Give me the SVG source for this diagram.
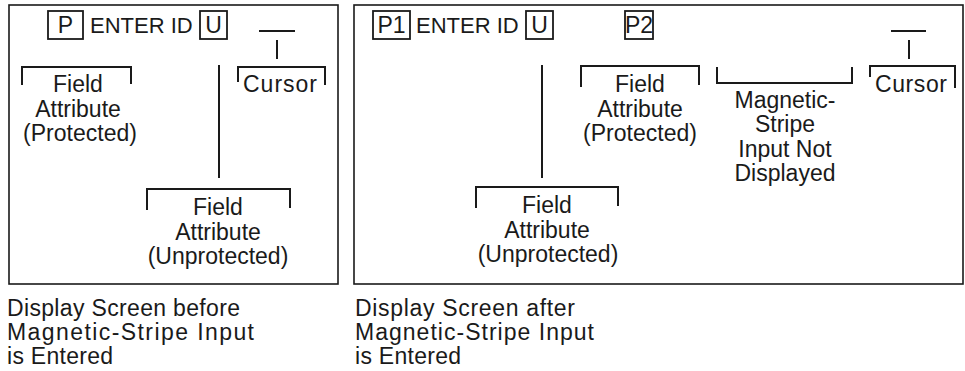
<svg xmlns="http://www.w3.org/2000/svg" width="965" height="371" viewBox="0 0 965 371">
<style>
.frame{fill:none;stroke:#1a1a1a;stroke-width:1.6}
.box{fill:none;stroke:#1a1a1a;stroke-width:1.8}
.ln{fill:none;stroke:#1a1a1a;stroke-width:2}
text{font-family:"Liberation Sans",Arial,sans-serif;font-size:23px;fill:#1a1a1a}
.c{text-anchor:middle}
.t{font-size:22px}
</style>
<rect width="965" height="371" fill="#ffffff"/>
<g id="panel-before">
<rect class="frame" x="9" y="5" width="329" height="279"/>
<g id="before-field-p"><rect class="box" x="48" y="11" width="35" height="28"/><text class="c" x="65.5" y="33">P</text></g>
<text class="t" x="90" y="33">ENTER ID</text>
<g id="before-field-u"><rect class="box" x="200" y="11" width="27" height="28"/><text class="c" x="213.5" y="33">U</text></g>
<g id="before-cursor-mark"><line class="ln" x1="259" y1="31" x2="295" y2="31"/><line class="ln" x1="277" y1="40" x2="277" y2="59"/></g>
<g id="before-label-protected"><path class="ln" d="M22,85 V67 H131 V84"/><text class="c" x="78" y="92">Field</text><text class="c" x="78" y="117">Attribute</text><text class="c" x="80" y="141">(Protected)</text></g>
<g id="before-label-cursor"><path class="ln" d="M238,82 V67 H325 V85"/><text class="c" x="280" y="92" textLength="74" lengthAdjust="spacing">Cursor</text></g>
<g id="before-label-unprotected"><path class="ln" d="M147,210 V189 H290 V208"/><text class="c" x="218" y="215">Field</text><text class="c" x="218" y="240">Attribute</text><text class="c" x="218" y="264">(Unprotected)</text></g>
</g>
<g id="panel-after">
<rect class="frame" x="354" y="5" width="609" height="279"/>
<g id="after-field-p1"><rect class="box" x="373" y="11" width="37" height="28"/><text class="c" x="391.5" y="33">P1</text></g>
<text class="t" x="416" y="33">ENTER ID</text>
<g id="after-field-u"><rect class="box" x="526" y="11" width="27" height="28"/><text class="c" x="539.5" y="33">U</text></g>
<g id="after-field-p2"><rect class="box" x="625" y="11" width="28" height="28"/><text class="c" x="639" y="33">P2</text></g>
<g id="after-cursor-mark"><line class="ln" x1="891" y1="31" x2="926" y2="31"/><line class="ln" x1="909" y1="40" x2="909" y2="59"/></g>
<g id="after-label-protected"><path class="ln" d="M581,87 V66 H699 V85"/><text class="c" x="640" y="92">Field</text><text class="c" x="640" y="117">Attribute</text><text class="c" x="640" y="141">(Protected)</text></g>
<g id="after-label-stripe"><path class="ln" d="M717,67 V83 H852 V67"/><text class="c" x="785" y="108">Magnetic-</text><text class="c" x="785" y="132">Stripe</text><text class="c" x="785" y="157">Input Not</text><text class="c" x="785" y="181">Displayed</text></g>
<g id="after-label-cursor"><path class="ln" d="M870,77 V66 H955 V88"/><text class="c" x="911" y="92" textLength="72" lengthAdjust="spacing">Cursor</text></g>
<g id="after-label-unprotected"><path class="ln" d="M476,208 V187 H618 V206"/><text class="c" x="547" y="213">Field</text><text class="c" x="547" y="238">Attribute</text><text class="c" x="548" y="262">(Unprotected)</text></g>
</g>
<g id="connectors">
<line class="ln" x1="219" y1="65" x2="219" y2="178"/>
<line class="ln" x1="542" y1="65" x2="542" y2="178"/>
</g>
<g id="captions">
<text x="7" y="316" textLength="233" lengthAdjust="spacing">Display Screen before</text>
<text x="7" y="340" textLength="247" lengthAdjust="spacing">Magnetic-Stripe Input</text>
<text x="7" y="364" textLength="106" lengthAdjust="spacing">is Entered</text>
<text x="355" y="316" textLength="220" lengthAdjust="spacing">Display Screen after</text>
<text x="355" y="340" textLength="239" lengthAdjust="spacing">Magnetic-Stripe Input</text>
<text x="355" y="364" textLength="106" lengthAdjust="spacing">is Entered</text>
</g>
</svg>
